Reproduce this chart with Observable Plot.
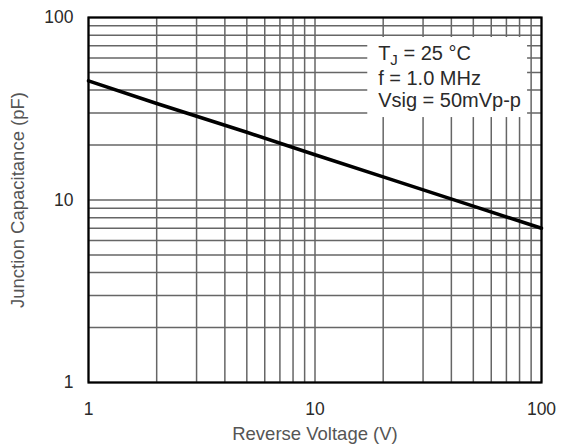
<!DOCTYPE html>
<html>
<head>
<meta charset="utf-8">
<script src="https://cdn.jsdelivr.net/npm/d3@7"></script>
<script src="https://cdn.jsdelivr.net/npm/@observablehq/plot@0.6"></script>
<style>
  html, body { margin: 0; padding: 0; background: #fff; }
</style>
</head>
<body>
<div id="chart"></div>
<script>
// Data
const voltage = [1, 2, 5, 10, 20, 50, 100];
const capacitance = [45, 33.8, 23.5, 17.7, 13.4, 9.25, 7.0];

// Axis ticks / grid
const majorTicks = [1, 10, 100];
const gridValues = [1, 2, 3, 4, 5, 6, 7, 8, 9, 10, 20, 30, 40, 50, 60, 70, 80, 90, 100];

// Annotation
const noteLines = ["TJ = 25 °C", "f = 1.0 MHz", "Vsig = 50mVp-p"];
const noteY = [63.5, 46.3, 35.1];
const noteX = 19;
const noteBox = [{x1: 17.1, x2: 86.8, y1: 28.3, y2: 77.7}];

const curve = voltage.map((v, i) => ({v, c: capacitance[i]}));
const notes = noteLines.map((t, i) => ({t, x: noteX, y: noteY[i]}));

const chart = Plot.plot({
  width: 565,
  height: 448,
  marginLeft: 88,
  marginRight: 24,
  marginTop: 17,
  marginBottom: 66,
  style: {fontFamily: "'Liberation Sans', Arial, sans-serif", fontSize: "17.5px", color: "#2a2a2a", background: "#fff"},
  x: {
    type: "log", domain: [1, 100], ticks: majorTicks, tickFormat: d => String(d),
    tickSize: 0, tickPadding: 20, label: "Reverse Voltage (V)", labelAnchor: "center",
    labelArrow: "none", labelOffset: 57
  },
  y: {
    type: "log", domain: [1, 100], ticks: majorTicks, tickFormat: d => String(d),
    tickSize: 0, tickPadding: 15, label: "Junction Capacitance (pF)", labelAnchor: "center",
    labelArrow: "none", labelOffset: 78
  },
  marks: [
    Plot.ruleX(gridValues, {stroke: "#666", strokeWidth: 1.5}),
    Plot.ruleY(gridValues, {stroke: "#666", strokeWidth: 1.5}),
    Plot.rect(noteBox, {x1: "x1", x2: "x2", y1: "y1", y2: "y2", fill: "white"}),
    Plot.line(curve, {x: "v", y: "c", stroke: "black", strokeWidth: 3.5}),
    Plot.frame({stroke: "black", strokeWidth: 2.2}),
    Plot.text(notes, {x: "x", y: "y", text: "t", textAnchor: "start", lineAnchor: "middle", fontSize: 20, fill: "#2a2a2a"})
  ]
});

// Subscript J in T_J
d3.select(chart).selectAll("text").filter(function() { return this.textContent === noteLines[0]; })
  .each(function() {
    const el = d3.select(this);
    el.text(null);
    el.append("tspan").text("T");
    el.append("tspan").attr("font-size", 15).attr("dy", 5).text("J");
    el.append("tspan").attr("dy", -5).text(" = 25 °C");
  });

// Axis titles lighter gray, slightly larger
d3.select(chart).selectAll("[aria-label='x-axis label'] text, [aria-label='y-axis label'] text")
  .attr("fill", "#555").attr("font-size", 18.5);

document.getElementById("chart").appendChild(chart);
</script>
</body>
</html>
